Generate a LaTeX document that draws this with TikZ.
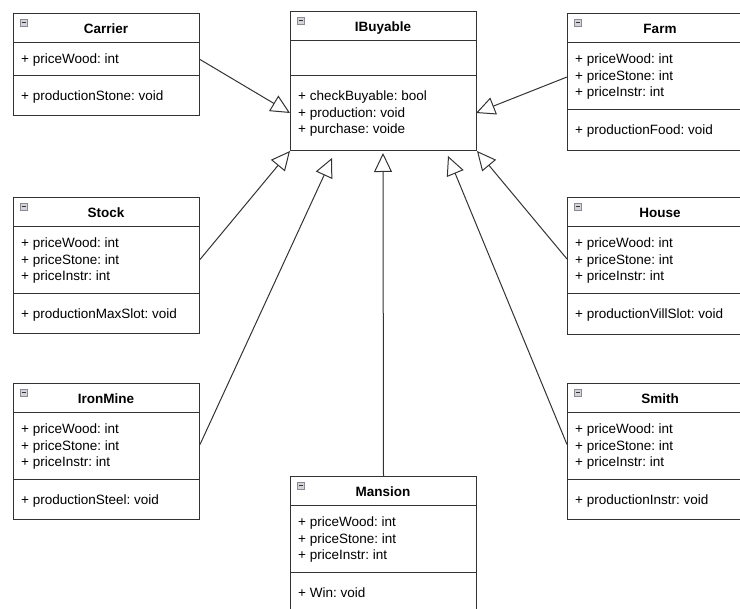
\documentclass[tikz,border=0pt]{standalone}
\usepackage{fontspec}
\setmainfont{Liberation Sans}
\usepackage{xcolor}
\usepackage{tikz}
\usetikzlibrary{arrows.meta,calc}
\frenchspacing

\definecolor{umlline}{HTML}{333333}
\definecolor{iconfill}{HTML}{D4D4D8}
\definecolor{iconedge}{HTML}{8A8A94}

% one class box: name, left, top, height, offset of method line, title, attributes, methods
\newcommand{\umlclass}[8]{%
  \node[classbox, minimum height=#4pt] (#1) at (#2,#3) {};
  \draw[umlline, line width=1pt] (#2,#3+30) -- ++(186,0);
  \draw[umlline, line width=1pt] (#2,#3+#5) -- ++(186,0);
  \draw[iconedge, fill=iconfill] (#2+7,#3+6) rectangle ++(7,7);
  \draw[umlline, line width=1.2pt] (#2+8.5,#3+9.5) -- ++(4,0);
  \node[titletext] at (#2+93,#3+21) {#6};
  \foreach \t [count=\i] in {#7} {
    \node[membertext] at ({#2+8},{#3+51+(\i-1)*16.5}) {\t};
  }
  \foreach \t [count=\i] in {#8} {
    \node[membertext] at ({#2+8},{#3+#5+25+(\i-1)*16.5}) {\t};
  }
}

\begin{document}
\begin{tikzpicture}[
  x=1pt, y=-1pt,
  classbox/.style={draw=umlline, line width=1pt, fill=white, inner sep=0pt,
    minimum width=186pt, anchor=north west},
  titletext/.style={font=\fontsize{13.5pt}{16.5pt}\selectfont\bfseries, anchor=base, inner sep=0pt},
  membertext/.style={font=\fontsize{13.5pt}{16.5pt}\selectfont, anchor=base west, inner sep=0pt},
  inherit/.style={umlline, line width=1pt, -{Triangle[open, length=19pt, width=18pt]}}
]
\useasboundingbox (0,0) rectangle (740,609);
\clip (0,0) rectangle (740,609);

% arrow ends at the interface
\coordinate (tipcarrier) at (290,113);
\coordinate (tipfarm) at (476,113);
\coordinate (tipiron) at (332,158);
\coordinate (tipmansion) at (383,153);
\coordinate (tipsmith) at (448,156);

\umlclass{ibuyable}{290}{11}{139}{65}{IBuyable}{}%
  {+ checkBuyable: bool, + production: void, + purchase: voide}
\umlclass{carrier}{13}{13}{102}{63}{Carrier}{+ priceWood: int}{+ productionStone: void}
\umlclass{farm}{567}{13}{137}{97}{Farm}%
  {+ priceWood: int, + priceStone: int, + priceInstr: int}{+ productionFood: void}
\umlclass{stock}{13}{197}{136}{97}{Stock}%
  {+ priceWood: int, + priceStone: int, + priceInstr: int}{+ productionMaxSlot: void}
\umlclass{house}{567}{197}{137}{97}{House}%
  {+ priceWood: int, + priceStone: int, + priceInstr: int}{+ productionVillSlot: void}
\umlclass{ironmine}{13}{383}{136}{97}{IronMine}%
  {+ priceWood: int, + priceStone: int, + priceInstr: int}{+ productionSteel: void}
\umlclass{smith}{567}{383}{136}{97}{Smith}%
  {+ priceWood: int, + priceStone: int, + priceInstr: int}{+ productionInstr: void}
\umlclass{mansion}{290}{476}{150}{97}{Mansion}%
  {+ priceWood: int, + priceStone: int, + priceInstr: int}{+ Win: void}

% inheritance
\draw[inherit] ($(carrier.east)+(0,-5)$) -- (tipcarrier);
\draw[inherit] ($(farm.west)+(0,-5)$) -- (tipfarm);
\draw[inherit] ($(stock.east)+(0,-6)$) -- (ibuyable.south west);
\draw[inherit] ($(house.west)+(0,-7)$) -- (ibuyable.south east);
\draw[inherit] ($(ironmine.east)+(0,-7)$) -- (tipiron);
\draw[inherit] ($(smith.west)+(0,-7)$) -- (tipsmith);
\draw[inherit] (mansion.north) -- (tipmansion);
\end{tikzpicture}
\end{document}
